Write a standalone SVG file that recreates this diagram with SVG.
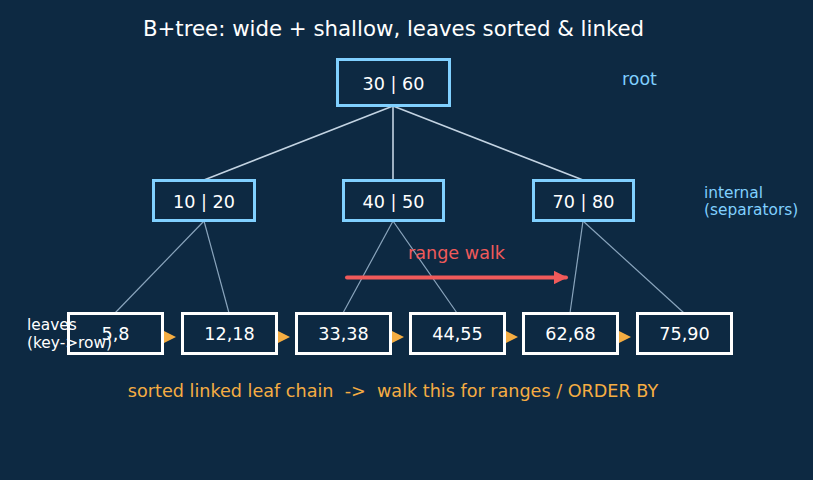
<svg xmlns="http://www.w3.org/2000/svg" width="813" height="480" viewBox="0 0 813 480">
<style>
text{font-family:"DejaVu Sans","Liberation Sans",sans-serif}
.inner{fill:#0d2942;stroke:#80d0ff;stroke-width:3}
.leaf{fill:#0d2942;stroke:#ffffff;stroke-width:3}
.lbl{fill:#ffffff;font-size:17.6px;text-anchor:middle}
.e1{stroke:#c3d3e2;stroke-width:1.6;fill:none}
.e2{stroke:#8aa5bd;stroke-width:1.2;fill:none}
.chain{fill:#f5ad42}
</style>
<defs>
<marker id="ah" viewBox="0 0 10 10" refX="9" refY="5" markerWidth="3.4" markerHeight="3.4" orient="auto" markerUnits="strokeWidth">
<path d="M0,0 L10,5 L0,10 z" fill="#f05a5a"/>
</marker>
</defs>
<rect width="813" height="480" fill="#0d2942"/>
<text x="393.5" y="35.5" fill="#ffffff" font-size="21.3" text-anchor="middle">B+tree: wide + shallow, leaves sorted &amp; linked</text>
<g id="connectors">
<line class="e1" x1="393" y1="106" x2="204" y2="180"/>
<line class="e1" x1="393" y1="106" x2="393" y2="180"/>
<line class="e1" x1="393" y1="106" x2="583" y2="180"/>
<line class="e2" x1="204" y1="221" x2="115" y2="313"/>
<line class="e2" x1="204" y1="221" x2="229" y2="313"/>
<line class="e2" x1="393" y1="221" x2="343" y2="313"/>
<line class="e2" x1="393" y1="221" x2="457" y2="313"/>
<line class="e2" x1="583" y1="221" x2="570" y2="313"/>
<line class="e2" x1="583" y1="221" x2="684" y2="313"/>
<line x1="347" y1="277.5" x2="566" y2="277.5" stroke="#f05a5a" stroke-width="4" stroke-linecap="round" marker-end="url(#ah)"/>
<polygon class="chain" points="164,331 176,337 164,343"/>
<polygon class="chain" points="278,331 290,337 278,343"/>
<polygon class="chain" points="392,331 404,337 392,343"/>
<polygon class="chain" points="506,331 518,337 506,343"/>
<polygon class="chain" points="619,331 631,337 619,343"/>
</g>
<g id="root"><rect class="inner" x="337.5" y="59.5" width="112" height="46"/><text class="lbl" x="393.5" y="89.5">30 | 60</text></g>
<g id="n1020"><rect class="inner" x="153.5" y="180.5" width="101" height="40"/><text class="lbl" x="204" y="207.5">10 | 20</text></g>
<g id="n4050"><rect class="inner" x="343.5" y="180.5" width="100" height="40"/><text class="lbl" x="393.5" y="207.5">40 | 50</text></g>
<g id="n7080"><rect class="inner" x="533.5" y="180.5" width="100" height="40"/><text class="lbl" x="583.5" y="207.5">70 | 80</text></g>
<g id="l58"><rect class="leaf" x="68.5" y="313.5" width="94" height="40"/><text class="lbl" x="115.5" y="339.5">5,8</text></g>
<g id="l1218"><rect class="leaf" x="182.5" y="313.5" width="94" height="40"/><text class="lbl" x="229.5" y="339.5">12,18</text></g>
<g id="l3338"><rect class="leaf" x="296.5" y="313.5" width="94" height="40"/><text class="lbl" x="343.5" y="339.5">33,38</text></g>
<g id="l4455"><rect class="leaf" x="410.5" y="313.5" width="94" height="40"/><text class="lbl" x="457.5" y="339.5">44,55</text></g>
<g id="l6268"><rect class="leaf" x="523.5" y="313.5" width="94" height="40"/><text class="lbl" x="570.5" y="339.5">62,68</text></g>
<g id="l7590"><rect class="leaf" x="637.5" y="313.5" width="94" height="40"/><text class="lbl" x="684.5" y="339.5">75,90</text></g>
<text x="456.5" y="259" fill="#f05a5a" font-size="17.6" text-anchor="middle">range walk</text>
<text x="622" y="84.5" fill="#80d0ff" font-size="17.4">root</text>
<text x="704" y="198" fill="#80d0ff" font-size="15.4">internal</text>
<text x="704" y="215" fill="#80d0ff" font-size="15.4">(separators)</text>
<text x="27" y="330" fill="#ffffff" font-size="15.4">leaves</text>
<text x="27" y="348" fill="#ffffff" font-size="15.4">(key-&gt;row)</text>
<text x="393" y="397" fill="#f5ad42" font-size="17.6" text-anchor="middle" xml:space="preserve">sorted linked leaf chain  -&gt;  walk this for ranges / ORDER BY</text>
</svg>
